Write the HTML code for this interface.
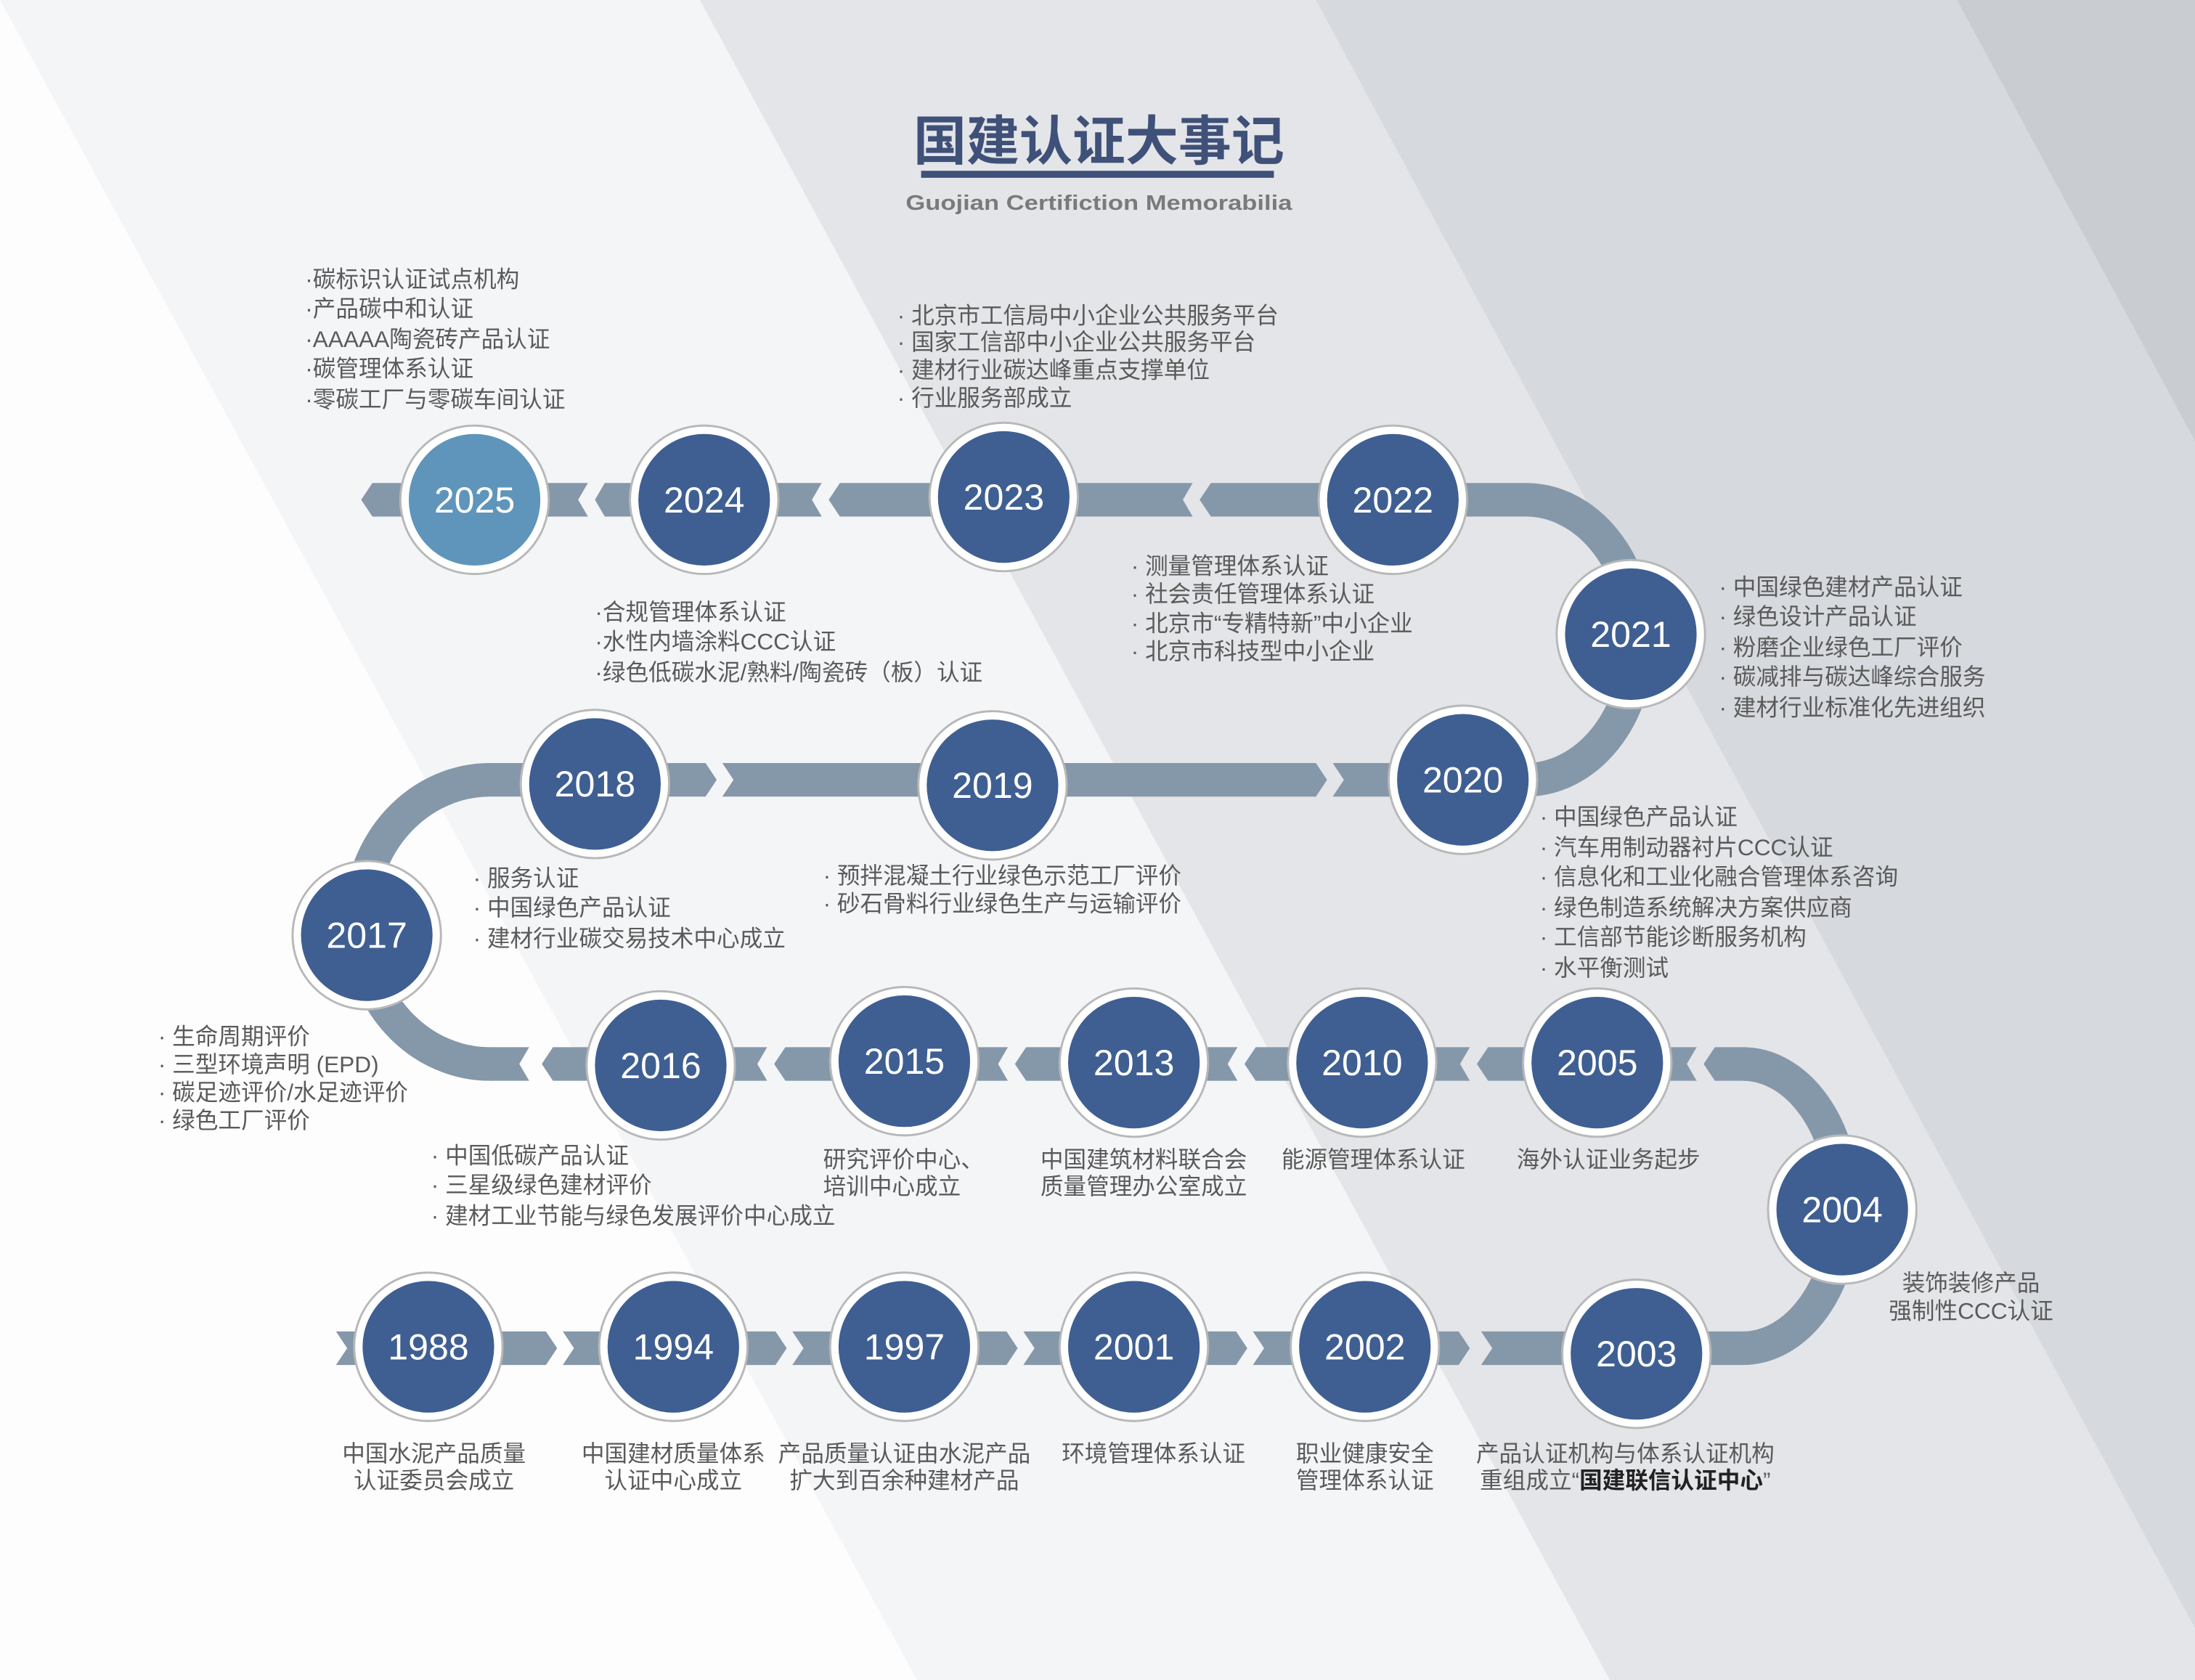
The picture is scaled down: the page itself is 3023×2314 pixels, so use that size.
<!DOCTYPE html>
<html><head><meta charset="utf-8"><style>
html,body{margin:0;padding:0;width:3023px;height:2314px;overflow:hidden;background:#fdfdfe}
svg{display:block}
text{font-family:"Liberation Sans","Noto Sans CJK SC",sans-serif}
.t{font-size:16.4px;fill:#5a5a5a}
.y{font-size:26px;fill:#fff;text-anchor:middle}
</style></head><body>
<svg width="3023" height="2314" viewBox="0 0 1568 1200" preserveAspectRatio="none" xmlns="http://www.w3.org/2000/svg">
<rect width="1568" height="1200" fill="#fdfdfe"/>
<polygon points="0,0 1568,0 1568,1200 655,1200" fill="#f4f5f7"/>
<polygon points="500,0 1568,0 1568,1200 1150,1200" fill="#e4e5e8"/>
<polygon points="940,0 1568,0 1568,1163" fill="#d6d9dd"/>
<polygon points="1398,0 1568,0 1568,315" fill="#c9cdd2"/>

<text x="785" y="114" text-anchor="middle" font-size="38" font-weight="bold" fill="#3f5179" textLength="265" lengthAdjust="spacingAndGlyphs">国建认证大事记</text>
<rect x="658" y="122" width="252" height="5" fill="#3f5179"/>
<text x="785" y="150" text-anchor="middle" font-size="15" font-weight="bold" fill="#7a7a7a" textLength="276" lengthAdjust="spacingAndGlyphs">Guojian Certifiction Memorabilia</text>

<g fill="#8598aa">
<polygon points="258,357 266,345 300,345 300,369 266,369"/>
<polygon points="340,345 420,345 413,357 420,369 340,369"/>
<polygon points="425,357 432,345 503,345 503,369 432,369"/>
<polygon points="503,345 587,345 580,357 587,369 503,369"/>
<polygon points="592,357 600,345 717,345 717,369 600,369"/>
<polygon points="717,345 852,345 845,357 852,369 717,369"/>
<polygon points="857,357 865,345 995,345 995,369 865,369"/>
<polygon points="425,545 504,545 512,557 504,569 425,569"/>
<polygon points="516,545 940,545 948,557 940,569 516,569 524,557"/>
<polygon points="952,545 1045,545 1045,569 952,569 960,557"/>
<polygon points="350,748 378,748 371,760 378,772 350,772"/>
<polygon points="387,760 395,748 472,748 472,772 395,772"/>
<polygon points="472,748 548,748 541,760 548,772 472,772"/>
<polygon points="553,760 561,748 646,748 646,772 561,772"/>
<polygon points="646,748 720,748 713,760 720,772 646,772"/>
<polygon points="725,760 733,748 810,748 810,772 733,772"/>
<polygon points="810,748 884,748 877,760 884,772 810,772"/>
<polygon points="889,760 897,748 973,748 973,772 897,772"/>
<polygon points="973,748 1050,748 1043,760 1050,772 973,772"/>
<polygon points="1055,760 1063,748 1141,748 1141,772 1063,772"/>
<polygon points="1141,748 1212,748 1205,760 1212,772 1141,772"/>
<polygon points="1217,760 1225,748 1247,748 1247,772 1225,772"/>
<polygon points="240,951 390,951 398,963 390,975 240,975 248,963"/>
<polygon points="402,951 554,951 562,963 554,975 402,975 410,963"/>
<polygon points="566,951 719,951 727,963 719,975 566,975 574,963"/>
<polygon points="731,951 883,951 891,963 883,975 731,975 739,963"/>
<polygon points="895,951 1042,951 1050,963 1042,975 895,975 903,963"/>
<polygon points="1058,951 1175,951 1175,975 1058,975 1066,963"/>
</g>
<g fill="none" stroke="#8598aa" stroke-width="24">
<path d="M990 357 H1090 A80 100 0 0 1 1090 557 H1040"/>
<path d="M430 557 H350 A93 101.5 0 0 0 350 760 H352"/>
<path d="M1245 760 A72 101.5 0 0 1 1245 963 H1165"/>
</g>

<g stroke="#b8b8b8" stroke-width="1.5" fill="#fff">
<circle cx="339" cy="357" r="53"/><circle cx="503" cy="357" r="53"/><circle cx="717" cy="355" r="53"/><circle cx="995" cy="357" r="53"/>
<circle cx="1165" cy="453" r="53"/><circle cx="1045" cy="557" r="53"/><circle cx="709" cy="561" r="53"/><circle cx="425" cy="560" r="53"/>
<circle cx="262" cy="668" r="53"/><circle cx="472" cy="761" r="53"/><circle cx="646" cy="758" r="53"/><circle cx="810" cy="759" r="53"/>
<circle cx="973" cy="759" r="53"/><circle cx="1141" cy="759" r="53"/><circle cx="1316" cy="864" r="53"/><circle cx="1169" cy="967" r="53"/>
<circle cx="306" cy="962" r="53"/><circle cx="481" cy="962" r="53"/><circle cx="646" cy="962" r="53"/><circle cx="810" cy="962" r="53"/><circle cx="975" cy="962" r="53"/>
</g>
<g fill="#3f5f93">
<circle cx="339" cy="357" r="47" fill="#5f95ba"/><circle cx="503" cy="357" r="47"/><circle cx="717" cy="355" r="47"/><circle cx="995" cy="357" r="47"/>
<circle cx="1165" cy="453" r="47"/><circle cx="1045" cy="557" r="47"/><circle cx="709" cy="561" r="47"/><circle cx="425" cy="560" r="47"/>
<circle cx="262" cy="668" r="47"/><circle cx="472" cy="761" r="47"/><circle cx="646" cy="758" r="47"/><circle cx="810" cy="759" r="47"/>
<circle cx="973" cy="759" r="47"/><circle cx="1141" cy="759" r="47"/><circle cx="1316" cy="864" r="47"/><circle cx="1169" cy="967" r="47"/>
<circle cx="306" cy="962" r="47"/><circle cx="481" cy="962" r="47"/><circle cx="646" cy="962" r="47"/><circle cx="810" cy="962" r="47"/><circle cx="975" cy="962" r="47"/>
</g>
<g class="y">
<text x="339" y="366">2025</text><text x="503" y="366">2024</text><text x="717" y="364">2023</text><text x="995" y="366">2022</text>
<text x="1165" y="462">2021</text><text x="1045" y="566">2020</text><text x="709" y="570">2019</text><text x="425" y="569">2018</text>
<text x="262" y="677">2017</text><text x="472" y="770">2016</text><text x="646" y="767">2015</text><text x="810" y="768">2013</text>
<text x="973" y="768">2010</text><text x="1141" y="768">2005</text><text x="1316" y="873">2004</text><text x="1169" y="976">2003</text>
<text x="306" y="971">1988</text><text x="481" y="971">1994</text><text x="646" y="971">1997</text><text x="810" y="971">2001</text><text x="975" y="971">2002</text>
</g>

<g class="t">
<text x="218" y="205">·碳标识认证试点机构</text>
<text x="218" y="226">·产品碳中和认证</text>
<text x="218" y="248">·AAAAA陶瓷砖产品认证</text>
<text x="218" y="269">·碳管理体系认证</text>
<text x="218" y="291">·零碳工厂与零碳车间认证</text>

<text x="641" y="231">· 北京市工信局中小企业公共服务平台</text>
<text x="641" y="250">· 国家工信部中小企业公共服务平台</text>
<text x="641" y="270">· 建材行业碳达峰重点支撑单位</text>
<text x="641" y="290">· 行业服务部成立</text>

<text x="808" y="410">· 测量管理体系认证</text>
<text x="808" y="430">· 社会责任管理体系认证</text>
<text x="808" y="451">· 北京市“专精特新”中小企业</text>
<text x="808" y="471">· 北京市科技型中小企业</text>

<text x="425" y="443">·合规管理体系认证</text>
<text x="425" y="464">·水性内墙涂料CCC认证</text>
<text x="425" y="486">·绿色低碳水泥/熟料/陶瓷砖（板）认证</text>

<text x="1228" y="425">· 中国绿色建材产品认证</text>
<text x="1228" y="446">· 绿色设计产品认证</text>
<text x="1228" y="468">· 粉磨企业绿色工厂评价</text>
<text x="1228" y="489">· 碳减排与碳达峰综合服务</text>
<text x="1228" y="511">· 建材行业标准化先进组织</text>

<text x="1100" y="589">· 中国绿色产品认证</text>
<text x="1100" y="611">· 汽车用制动器衬片CCC认证</text>
<text x="1100" y="632">· 信息化和工业化融合管理体系咨询</text>
<text x="1100" y="654">· 绿色制造系统解决方案供应商</text>
<text x="1100" y="675">· 工信部节能诊断服务机构</text>
<text x="1100" y="697">· 水平衡测试</text>

<text x="338" y="633">· 服务认证</text>
<text x="338" y="654">· 中国绿色产品认证</text>
<text x="338" y="676">· 建材行业碳交易技术中心成立</text>

<text x="588" y="631">· 预拌混凝土行业绿色示范工厂评价</text>
<text x="588" y="651">· 砂石骨料行业绿色生产与运输评价</text>

<text x="113" y="746">· 生命周期评价</text>
<text x="113" y="766">· 三型环境声明 (EPD)</text>
<text x="113" y="786">· 碳足迹评价/水足迹评价</text>
<text x="113" y="806">· 绿色工厂评价</text>

<text x="308" y="831">· 中国低碳产品认证</text>
<text x="308" y="852">· 三星级绿色建材评价</text>
<text x="308" y="874">· 建材工业节能与绿色发展评价中心成立</text>

<text x="588" y="834">研究评价中心、</text>
<text x="588" y="853">培训中心成立</text>
<g text-anchor="middle">
<text x="817" y="834">中国建筑材料联合会</text>
<text x="817" y="853">质量管理办公室成立</text>
<text x="981" y="834">能源管理体系认证</text>
<text x="1149" y="834">海外认证业务起步</text>
<text x="1408" y="922">装饰装修产品</text>
<text x="1408" y="942">强制性CCC认证</text>
<text x="310" y="1044">中国水泥产品质量</text>
<text x="310" y="1063">认证委员会成立</text>
<text x="481" y="1044">中国建材质量体系</text>
<text x="481" y="1063">认证中心成立</text>
<text x="646" y="1044">产品质量认证由水泥产品</text>
<text x="646" y="1063">扩大到百余种建材产品</text>
<text x="824" y="1044">环境管理体系认证</text>
<text x="975" y="1044">职业健康安全</text>
<text x="975" y="1063">管理体系认证</text>
<text x="1161" y="1044">产品认证机构与体系认证机构</text>
<text x="1161" y="1063">重组成立“<tspan font-weight="bold" fill="#222">国建联信认证中心</tspan>”</text>
</g>
</g>
</svg>
</body></html>
